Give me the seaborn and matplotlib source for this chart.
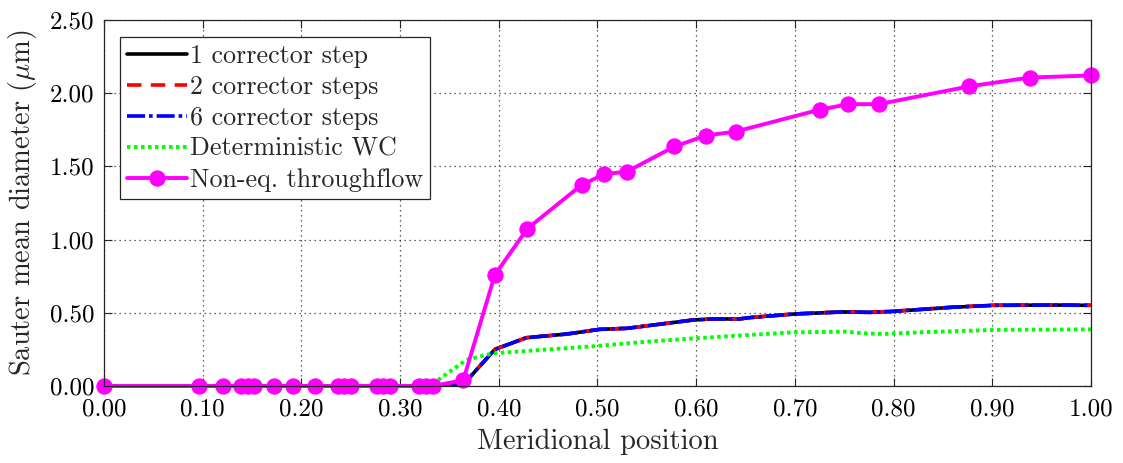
import numpy as np
import pandas as pd
import matplotlib
matplotlib.use("Agg")
import matplotlib.pyplot as plt
from matplotlib.ticker import FormatStrFormatter
import seaborn as sns

# Corrector-step solutions (stochastic wet-compression model)
x_corr = [0.0, 0.337, 0.364, 0.396, 0.428, 0.469, 0.502, 0.530, 0.570, 0.597,
          0.617, 0.644, 0.654, 0.700, 0.749, 0.776, 0.800, 0.860, 0.901, 0.962, 1.0]
d_corr1 = [0.0, 0.0, 0.01, 0.25, 0.33, 0.355, 0.387, 0.394, 0.428, 0.451,
           0.458, 0.458, 0.467, 0.492, 0.506, 0.503, 0.510, 0.538, 0.551, 0.553, 0.551]
d_corr2 = [0.0, 0.0, 0.01, 0.25, 0.33, 0.355, 0.387, 0.394, 0.428, 0.451,
           0.458, 0.459, 0.468, 0.493, 0.507, 0.504, 0.511, 0.539, 0.552, 0.554, 0.552]
d_corr6 = [0.0, 0.0, 0.01, 0.25, 0.33, 0.355, 0.387, 0.394, 0.428, 0.451,
           0.458, 0.458, 0.467, 0.492, 0.506, 0.503, 0.510, 0.538, 0.551, 0.553, 0.551]

# Deterministic wet-compression model
x_det = [0.0, 0.330, 0.367, 0.394, 0.432, 0.499, 0.550, 0.600, 0.644, 0.700,
         0.752, 0.769, 0.790, 0.827, 0.901, 1.0]
d_det = [0.0, 0.0, 0.178, 0.223, 0.241, 0.273, 0.303, 0.326, 0.345, 0.367,
         0.371, 0.360, 0.355, 0.367, 0.383, 0.387]

# Non-equilibrium throughflow
x_thr = [0.0, 0.096, 0.121, 0.139, 0.146, 0.152, 0.172, 0.191, 0.214, 0.237,
         0.243, 0.250, 0.277, 0.283, 0.290, 0.319, 0.326, 0.333, 0.364, 0.396,
         0.429, 0.484, 0.507, 0.530, 0.578, 0.610, 0.640, 0.725, 0.754, 0.785,
         0.876, 0.938, 1.0]
d_thr = [0.0] * 18 + [0.04, 0.759, 1.075, 1.374, 1.447, 1.465, 1.636, 1.711,
                      1.738, 1.887, 1.925, 1.925, 2.046, 2.107, 2.121]

x_ticks = np.round(np.arange(0.0, 1.01, 0.1), 2)
y_ticks = np.round(np.arange(0.0, 2.51, 0.5), 2)

sns.set_theme(style="ticks")
plt.rcParams.update({
    "font.family": ["serif"],
    "font.serif": ["cmr10", "DejaVu Serif"],
    "mathtext.fontset": "cm",
    "axes.formatter.use_mathtext": True,
    "axes.unicode_minus": False,
})

fig = plt.figure(figsize=(11.23, 4.63), dpi=100)
ax = fig.add_axes([0.0926, 0.1663, 0.8789, 0.7905])

sns.lineplot(x=x_corr, y=d_corr1, ax=ax, color="black", lw=2.6,
             linestyle="-", label="1 corrector step", estimator=None, sort=False)
sns.lineplot(x=x_corr, y=d_corr2, ax=ax, color="#ff0000", lw=2.6,
             linestyle=(0, (4.0, 2.6)), label="2 corrector steps", estimator=None, sort=False)
sns.lineplot(x=x_corr, y=d_corr6, ax=ax, color="#0000ff", lw=2.6,
             linestyle=(0, (5.0, 1.1, 1.0, 1.1)), label="6 corrector steps", estimator=None, sort=False)
sns.lineplot(x=x_det, y=d_det, ax=ax, color="#00ff00", lw=2.8,
             linestyle=(0, (0.9, 0.9)), label="Deterministic WC", estimator=None, sort=False)
sns.lineplot(x=x_thr, y=d_thr, ax=ax, color="#ff00ff", lw=2.8, marker="o",
             markersize=11, markeredgecolor="#ff00ff", linestyle="-",
             label="Non-eq. throughflow", estimator=None, sort=False, clip_on=False)

ax.set_xlim(0, 1)
ax.set_ylim(0, 2.5)
ax.set_xticks(x_ticks)
ax.set_yticks(y_ticks)
ax.xaxis.set_major_formatter(FormatStrFormatter("%.2f"))
ax.yaxis.set_major_formatter(FormatStrFormatter("%.2f"))
ax.tick_params(direction="in", length=6, width=0.8, colors="#262626",
               labelsize=18, labelcolor="black", top=True, right=True)
ax.tick_params(axis="x", pad=9)
ax.tick_params(axis="y", pad=7)
ax.grid(True, linestyle=(0, (1, 3)), color="#333333", linewidth=0.9)
for s in ax.spines.values():
    s.set_color("#262626")
    s.set_linewidth(0.9)

ax.set_xlabel("Meridional position", fontsize=20.5, labelpad=6)
ax.set_ylabel(r"Sauter mean diameter ($\mu$m)", fontsize=20.5, labelpad=8)

leg = ax.legend(loc="upper left", bbox_to_anchor=(0.016, 0.954), fontsize=18.7,
                handlelength=2.3, handletextpad=0.12, labelspacing=0.28,
                borderpad=0.28, borderaxespad=0.0, fancybox=False, framealpha=1,
                edgecolor="#262626")
leg.get_frame().set_linewidth(0.9)

fig.savefig("out.png", dpi=100)
